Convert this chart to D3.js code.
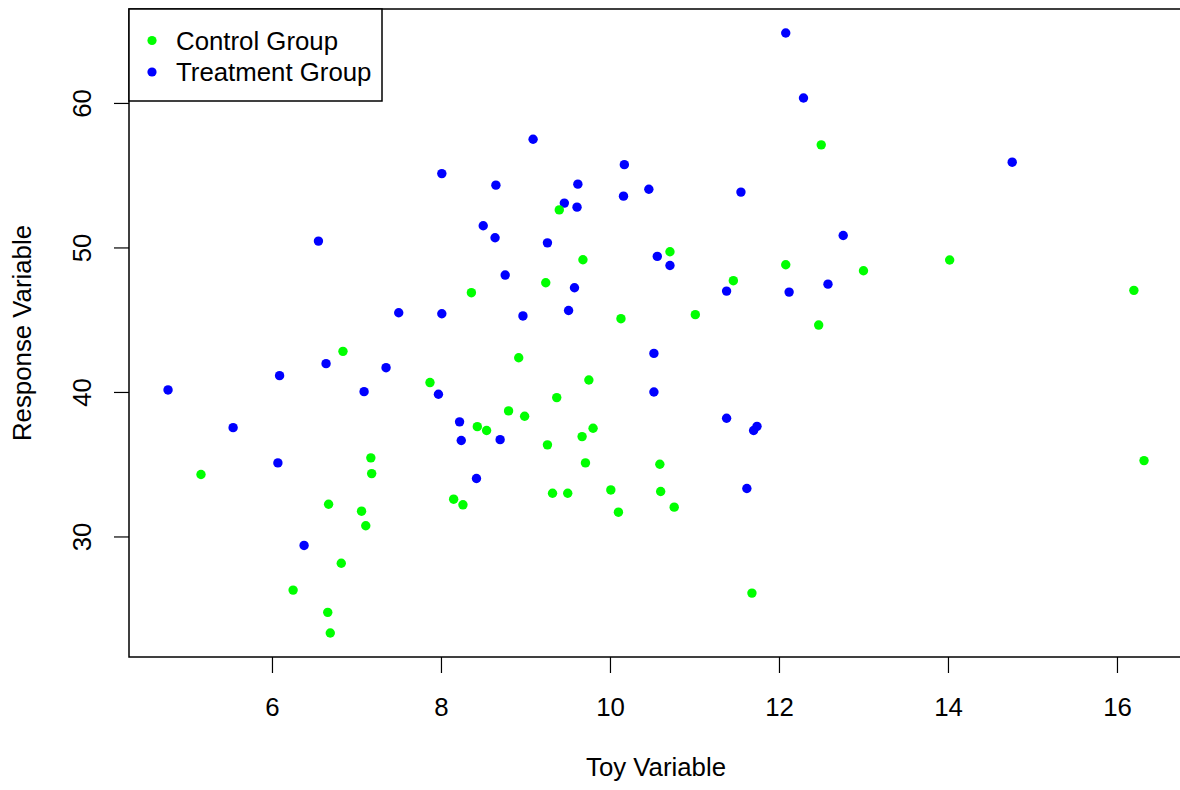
<!DOCTYPE html>
<html>
<head>
<meta charset="utf-8">
<script src="https://cdn.jsdelivr.net/npm/d3@7"></script>
<style>
  html, body { margin: 0; padding: 0; background: #fff; }
  svg { display: block; }
  text { font-family: "Liberation Sans", Arial, Helvetica, sans-serif; fill: #000; }
</style>
</head>
<body>
<svg id="chart" width="1180" height="790"></svg>
<script>
// ---- data ----
const treatmentX = [4.77, 5.54, 6.07, 6.09, 6.38, 6.55, 6.64, 7.09, 7.35, 7.50, 7.97, 8.01, 8.01, 8.22, 8.24, 8.42,
  8.50, 8.64, 8.65, 8.70, 8.76, 8.97, 9.09, 9.26, 9.46, 9.51, 9.58, 9.61, 9.62, 10.16, 10.17, 10.46,
  10.52, 10.52, 10.56, 10.71, 11.38, 11.38, 11.55, 11.62, 11.70, 11.74, 12.08, 12.12, 12.29, 12.58, 12.76, 14.76];
const treatmentY = [40.14, 37.53, 35.09, 41.13, 29.38, 50.44, 41.96, 40.02, 41.68, 45.48, 39.84, 55.11, 45.41, 37.93, 36.64, 34.01,
  51.50, 50.67, 54.31, 36.70, 48.09, 45.26, 57.49, 50.32, 53.07, 45.64, 47.21, 52.79, 54.38, 53.55, 55.73, 54.03,
  42.67, 40.00, 49.38, 48.75, 46.98, 38.18, 53.83, 33.32, 37.33, 37.62, 64.84, 46.91, 60.34, 47.46, 50.83, 55.90];
const controlX = [5.16, 6.25, 6.67, 6.66, 6.69, 6.82, 6.84, 7.06, 7.11, 7.17, 7.18, 7.87, 8.15, 8.26, 8.36, 8.43,
  8.54, 8.80, 8.92, 8.99, 9.24, 9.26, 9.32, 9.37, 9.40, 9.50, 9.67, 9.68, 9.71, 9.75, 9.80, 10.01,
  10.10, 10.13, 10.59, 10.60, 10.71, 10.76, 11.01, 11.46, 11.68, 12.08, 12.47, 12.50, 13.00, 14.02, 16.20, 16.32];
const controlY = [34.29, 26.29, 32.23, 24.75, 23.32, 28.15, 42.81, 31.75, 30.74, 35.44, 34.35, 40.65, 32.58, 32.19, 46.87, 37.60,
  37.33, 38.69, 42.37, 38.32, 47.56, 36.34, 32.99, 39.61, 52.60, 32.99, 36.91, 49.15, 35.09, 40.83, 37.49, 33.22,
  31.68, 45.07, 35.00, 33.11, 49.70, 32.03, 45.35, 47.70, 26.08, 48.80, 44.63, 57.10, 48.39, 49.13, 47.03, 35.25];
const xTicks = [6, 8, 10, 12, 14, 16];
const yTicks = [30, 40, 50, 60];
const seriesNames = ["Control Group", "Treatment Group"];
const seriesColors = ["#00ff00", "#0000ff"];
const xTitle = "Toy Variable";
const yTitle = "Response Variable";

// ---- layout ----
const svg = d3.select("#chart");
const FS = 25.8;
const plotL = 129, plotT = 9, plotB = 657;
const pxPerX = 84.5;

function padExtent(arr) {
  const [lo, hi] = d3.extent(arr);
  const r = hi - lo;
  return [lo - 0.04 * r, hi + 0.04 * r];
}
const xDom = padExtent(controlX.concat(treatmentX));
const yDom = padExtent(controlY.concat(treatmentY));

const x = d3.scaleLinear().domain(xDom).range([plotL, plotL + (xDom[1] - xDom[0]) * pxPerX]);
const y = d3.scaleLinear().domain(yDom).range([plotB, plotT]);

// plot frame
svg.append("rect")
  .attr("x", x.range()[0]).attr("y", plotT)
  .attr("width", x.range()[1] - x.range()[0]).attr("height", plotB - plotT)
  .attr("fill", "none").attr("stroke", "#000").attr("stroke-width", 1.5);

// x axis
const xAxis = svg.append("g").attr("transform", `translate(0,${plotB})`)
  .call(d3.axisBottom(x).tickValues(xTicks).tickSize(16).tickPadding(25).tickSizeOuter(0));
xAxis.select(".domain").remove();
xAxis.selectAll("line").attr("stroke", "#000").attr("stroke-width", 1.2);
xAxis.selectAll("text").style("font-size", FS + "px").attr("dy", "0.71em")
  .attr("font-family", "Liberation Sans, Arial, sans-serif");

// y axis
const yAxis = svg.append("g").attr("transform", `translate(${plotL},0)`)
  .call(d3.axisLeft(y).tickValues(yTicks).tickSize(15).tickSizeOuter(0));
yAxis.select(".domain").remove();
yAxis.selectAll("line").attr("stroke", "#000").attr("stroke-width", 1.2);
yAxis.selectAll("text")
  .attr("x", null).attr("dy", null)
  .attr("text-anchor", "middle")
  .attr("transform", "translate(-47,0) rotate(-90)")
  .attr("y", 0).attr("dy", "0.35em")
  .style("font-size", FS + "px")
  .attr("font-family", "Liberation Sans, Arial, sans-serif");

// titles
const xMid = (x.range()[0] + x.range()[1]) / 2;
svg.append("text").attr("x", xMid).attr("y", 767).attr("dy", "0.35em")
  .attr("text-anchor", "middle").style("font-size", FS + "px").text(xTitle);
svg.append("text")
  .attr("transform", `translate(22,${(plotT + plotB) / 2}) rotate(-90)`)
  .attr("dy", "0.35em")
  .attr("text-anchor", "middle").style("font-size", FS + "px").text(yTitle);

// points: treatment first, then control on top
const pts = svg.append("g");
pts.selectAll("circle.t").data(treatmentX.map((v, i) => [v, treatmentY[i]])).enter()
  .append("circle").attr("class", "t")
  .attr("cx", d => x(d[0])).attr("cy", d => y(d[1])).attr("r", 4.7)
  .attr("fill", seriesColors[1]);
pts.selectAll("circle.c").data(controlX.map((v, i) => [v, controlY[i]])).enter()
  .append("circle").attr("class", "c")
  .attr("cx", d => x(d[0])).attr("cy", d => y(d[1])).attr("r", 4.7)
  .attr("fill", seriesColors[0]);

// legend
const leg = svg.append("g");
leg.append("rect").attr("x", 129).attr("y", 9).attr("width", 253).attr("height", 92)
  .attr("fill", "#fff").attr("stroke", "#000").attr("stroke-width", 1.5);
seriesNames.forEach((name, i) => {
  const cy = 40.5 + i * 31.5;
  leg.append("circle").attr("cx", 152).attr("cy", cy).attr("r", 4.6).attr("fill", seriesColors[i]);
  leg.append("text").attr("x", 176).attr("y", cy).attr("dy", "0.35em")
    .style("font-size", FS + "px").text(name);
});
</script>
</body>
</html>
